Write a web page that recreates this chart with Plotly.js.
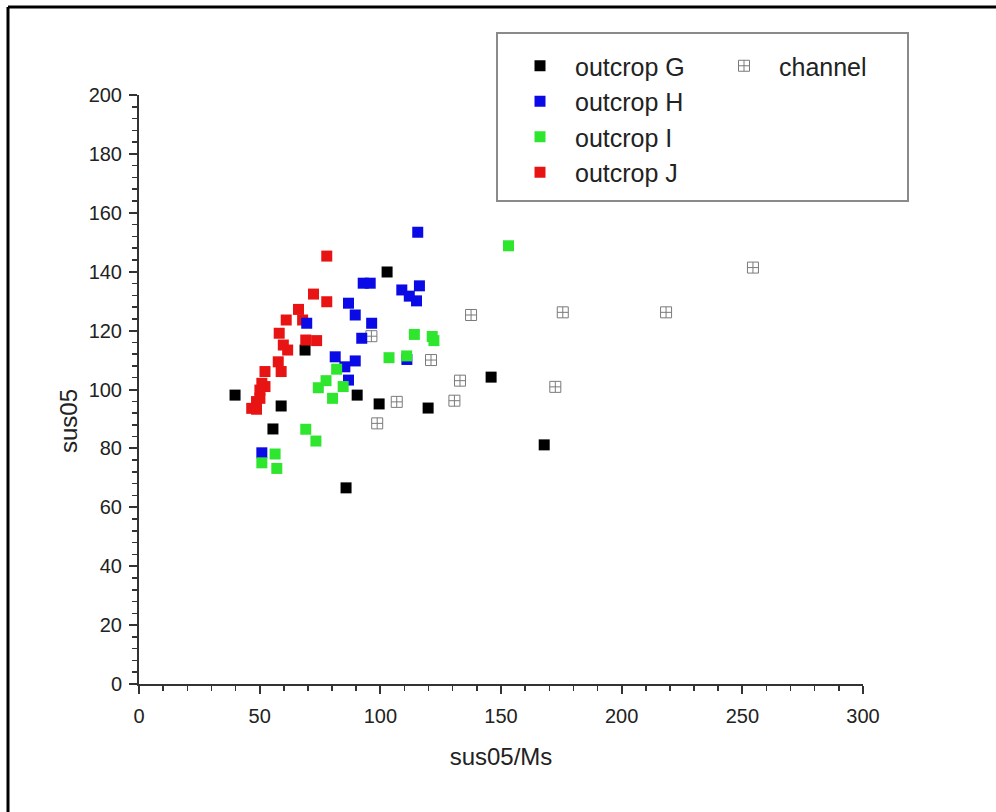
<!DOCTYPE html>
<html>
<head>
<meta charset="utf-8">
<script src="https://cdn.plot.ly/plotly-3.0.1.min.js"></script>
<style>
  html, body { margin: 0; padding: 0; background: #fff; }
  #chart { width: 996px; height: 812px; }
</style>
</head>
<body>
<div id="chart"></div>
<script>
// Susceptibility ratio (sus05/Ms) against sus05 per outcrop and for the channel
const seriesNames = ["outcrop G", "outcrop H", "outcrop I", "outcrop J", "channel"];

const gX = [39.8, 55.5, 58.9, 68.8, 102.8, 85.8, 90.4, 99.5, 119.8, 145.9, 167.9];
const gY = [98.1, 86.6, 94.4, 113.4, 139.9, 66.6, 98.1, 95.1, 93.7, 104.2, 81.2];

const hX = [50.9, 69.5, 92.9, 95.8, 86.8, 89.6, 96.4, 92.3, 81.3, 89.6, 85.3, 86.8,
            115.5, 108.9, 112.0, 116.2, 115.0, 111.0];
const hY = [78.5, 122.5, 136.1, 136.1, 129.3, 125.3, 122.5, 117.4, 111.1, 109.7, 107.7, 103.2,
            153.4, 133.8, 131.7, 135.2, 130.1, 110.2];

const iX = [50.9, 56.4, 57.1, 69.1, 73.3, 74.3, 77.5, 81.9, 80.2, 84.6, 103.6,
            153.1, 114.1, 121.5, 122.2, 110.9];
const iY = [75.1, 78.1, 73.2, 86.5, 82.5, 100.6, 103.0, 106.9, 97.0, 101.0, 110.8,
            148.8, 118.7, 118.0, 116.6, 111.4];

const jX = [77.8, 72.3, 77.8, 66.1, 61.0, 67.8, 58.1, 59.8, 61.6, 69.1, 73.6, 57.7,
            58.9, 52.2, 50.9, 52.2, 50.1, 48.7, 46.7, 48.7, 50.1];
const jY = [145.3, 132.4, 129.8, 127.2, 123.6, 123.6, 119.1, 115.1, 113.4, 116.8, 116.6, 109.4,
            106.1, 106.1, 102.1, 101.0, 99.8, 95.9, 93.6, 93.3, 97.0];

const chX = [96.3, 98.7, 106.8, 121.0, 130.7, 133.0, 137.6, 172.5, 175.6, 218.4, 254.4];
const chY = [118.1, 88.5, 95.8, 110.0, 96.2, 103.0, 125.3, 100.9, 126.2, 126.2, 141.4];

const FONT = "Liberation Sans, Arial, sans-serif";
const INK = "#222";

function solid(name, x, y, color, rank) {
  return {
    type: "scatter", mode: "markers", name: name, x: x, y: y,
    legend: "legend", legendgroup: name, legendrank: rank,
    marker: { symbol: "square", size: 11, color: color, line: { width: 0 } },
    hoverinfo: "x+y+name"
  };
}

const traces = [
  {
    type: "scatter", mode: "markers", name: seriesNames[4], x: chX, y: chY,
    legend: "legend2",
    marker: { symbol: "square-cross-open", size: 11, color: "#7a7a7a", line: { width: 1, color: "#7a7a7a" } },
    hoverinfo: "x+y+name"
  },
  solid(seriesNames[0], gX, gY, "#000000", 1),
  solid(seriesNames[3], jX, jY, "#e81414", 4),
  solid(seriesNames[1], hX, hY, "#0a0ae6", 2),
  solid(seriesNames[2], iX, iY, "#2fe62f", 3)
];

const axisCommon = {
  showgrid: false, zeroline: false, showline: true,
  linecolor: "#333", linewidth: 2,
  ticks: "outside", ticklen: 8, tickwidth: 2, tickcolor: "#333",
  tickfont: { family: FONT, size: 20, color: INK },
  fixedrange: true
};

const layout = {
  width: 996, height: 812,
  paper_bgcolor: "#ffffff", plot_bgcolor: "#ffffff",
  margin: { l: 139, r: 133, t: 95, b: 128 },
  font: { family: FONT, color: INK },
  showlegend: true,
  xaxis: Object.assign({}, axisCommon, {
    range: [0, 300], tick0: 0, dtick: 50,
    minor: { dtick: 10, ticks: "outside", ticklen: 5, tickwidth: 1.5, tickcolor: "#333" },
    ticklabelstandoff: 5,
    title: { text: "sus05/Ms", font: { family: FONT, size: 24, color: INK }, standoff: 22 }
  }),
  yaxis: Object.assign({}, axisCommon, {
    range: [0, 200], tick0: 0, dtick: 20,
    minor: { dtick: 4, ticks: "outside", ticklen: 5, tickwidth: 1.5, tickcolor: "#333" },
    ticklabelstandoff: 3
  }),
  annotations: [
    // y-axis title, set a little below the middle of the axis
    { text: "sus05", xref: "paper", yref: "paper",
      x: (68 - 139) / 724, y: (684 - 421) / 589,
      xanchor: "center", yanchor: "middle", textangle: -90, showarrow: false,
      font: { family: FONT, size: 24, color: INK } }
  ],
  legend: {
    x: (505 - 139) / 724, y: (684 - 43) / 589, xanchor: "left", yanchor: "top",
    bgcolor: "rgba(0,0,0,0)", borderwidth: 0,
    font: { family: FONT, size: 25, color: INK },
    itemwidth: 60, tracegroupgap: 2, traceorder: "normal",
    itemclick: false, itemdoubleclick: false
  },
  legend2: {
    x: (709 - 139) / 724, y: (684 - 43) / 589, xanchor: "left", yanchor: "top",
    bgcolor: "rgba(0,0,0,0)", borderwidth: 0,
    font: { family: FONT, size: 25, color: INK },
    itemwidth: 60,
    itemclick: false, itemdoubleclick: false
  },
  shapes: [
    // legend frame
    { type: "rect", xref: "paper", yref: "paper",
      x0: (497 - 139) / 724, x1: (908 - 139) / 724,
      y0: (684 - 201) / 589, y1: (684 - 33) / 589,
      line: { color: "#8a8a8a", width: 2 }, fillcolor: "rgba(0,0,0,0)" },
    // outer frame (top and left edges)
    { type: "line", xref: "paper", yref: "paper",
      x0: (8 - 139) / 724, x1: (996 - 139) / 724, y0: (684 - 7) / 589, y1: (684 - 7) / 589,
      line: { color: "#000", width: 3 } },
    { type: "line", xref: "paper", yref: "paper",
      x0: (8 - 139) / 724, x1: (8 - 139) / 724, y0: (684 - 7) / 589, y1: (684 - 812) / 589,
      line: { color: "#000", width: 3 } }
  ]
};

Plotly.newPlot("chart", traces, layout, { displayModeBar: false, staticPlot: true });
</script>
</body>
</html>
